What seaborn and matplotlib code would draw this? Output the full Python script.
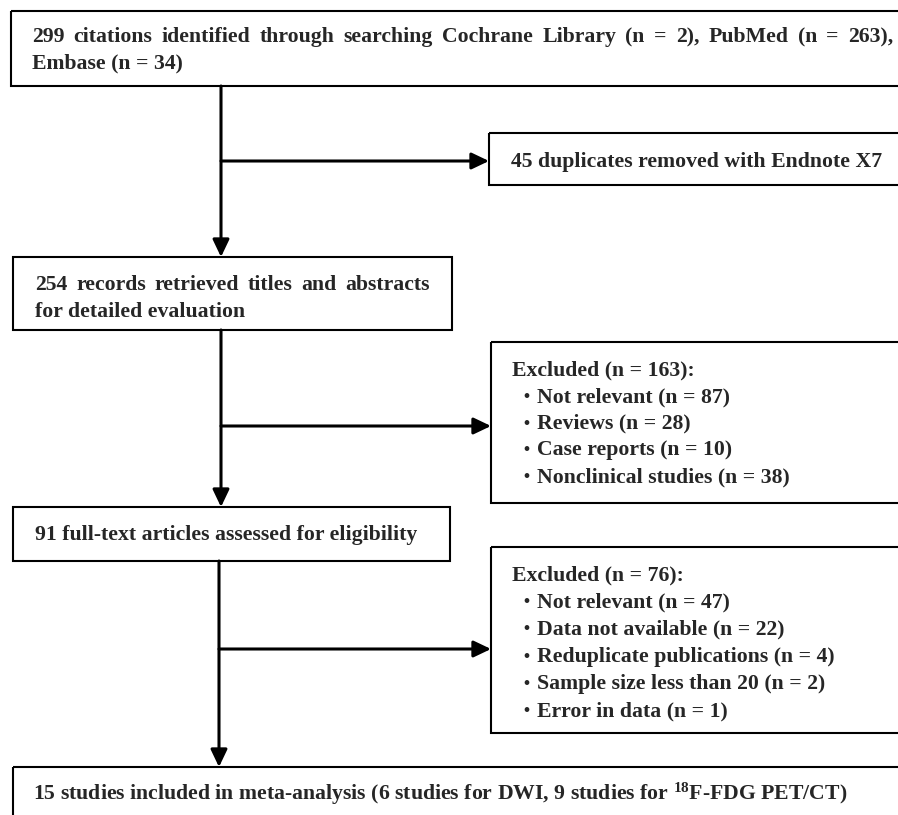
import matplotlib.pyplot as plt
import seaborn as sns
from matplotlib.patches import Rectangle, FancyArrowPatch

# Flow counts and labels
n_cochrane, n_pubmed, n_embase = 2, 263, 34
n_total = 299
n_duplicates = 45
n_screened = 254
n_fulltext = 91
n_included, n_dwi, n_pet = 15, 6, 9

excl1_reasons = ['Not relevant', 'Reviews', 'Case reports', 'Nonclinical studies']
excl1_counts = [87, 28, 10, 38]
excl2_reasons = ['Not relevant', 'Data not available', 'Reduplicate publications',
                 'Sample size less than 20', 'Error in data']
excl2_counts = [47, 22, 4, 2, 1]

sns.set_style('white')
plt.rcParams['font.family'] = ['Liberation Serif', 'DejaVu Serif']
plt.rcParams['font.weight'] = 'bold'
plt.rcParams['mathtext.fontset'] = 'custom'
plt.rcParams['mathtext.rm'] = 'Liberation Serif:bold'
plt.rcParams['mathtext.bf'] = 'Liberation Serif:bold'
plt.rcParams['mathtext.default'] = 'bf'

W, H = 898, 815
FS = 15.7
fig = plt.figure(figsize=(W / 100, H / 100), dpi=100)
ax = fig.add_axes([0, 0, 1, 1])
ax.set_xlim(0, W)
ax.set_ylim(H, 0)
ax.axis('off')
renderer = fig.canvas.get_renderer()


def box(x0, y0, x1, y1):
    ax.add_patch(Rectangle((x0, y0), x1 - x0, y1 - y0, fill=False,
                           edgecolor='black', linewidth=1.5, clip_on=False))


def arrow(p0, p1):
    ax.add_patch(FancyArrowPatch(p0, p1, arrowstyle='-|>,head_length=10.5,head_width=5',
                                 mutation_scale=1, color='black', linewidth=2.2,
                                 shrinkA=0, shrinkB=0))


def text(x, y, s, size=FS):
    return ax.text(x, y, s, fontsize=size, fontweight='bold', va='baseline', ha='left')


def justified(x0, x1, y, s):
    words = s.split(' ')
    widths = []
    for w in words:
        t = ax.text(0, 0, w, fontsize=FS, fontweight='bold')
        widths.append(t.get_window_extent(renderer).width)
        t.remove()
    gap = ((x1 - x0) - sum(widths)) / (len(words) - 1)
    x = x0
    for w, wd in zip(words, widths):
        text(x, y, w)
        x += wd + gap


def bullets(y0, step, reasons, counts):
    for i, (r, c) in enumerate(zip(reasons, counts)):
        yy = y0 + i * step
        text(523, yy - 1, '\u2022', size=FS * 0.8)
        text(537, yy, f'{r} (n = {c})')


# top box
box(11, 11, 920, 86)
justified(32, 893, 42, f'{n_total} citations identified through searching Cochrane Library '
          f'(n = {n_cochrane}), PubMed (n = {n_pubmed}),')
text(32, 68, f'Embase (n = {n_embase})')

# duplicates
arrow((221, 86), (221, 257))
arrow((221, 161), (489, 161))
box(489, 133, 920, 185)
text(511, 167, f'{n_duplicates} duplicates removed with Endnote X7')

# screened records
box(13, 257, 452, 330)
justified(35, 430, 290, f'{n_screened} records retrieved titles and abstracts')
text(35, 317, 'for detailed evaluation')
arrow((221, 330), (221, 507))
arrow((221, 426), (491, 426))

# first exclusion box
box(491, 342, 920, 503)
text(512, 375, f'Excluded (n = {sum(excl1_counts)}):')
bullets(402, 26.7, excl1_reasons, excl1_counts)

# full text
box(13, 507, 450, 561)
text(35, 540, f'{n_fulltext} full-text articles assessed for eligibility')
arrow((219, 561), (219, 767))
arrow((219, 649), (491, 649))

# second exclusion box
box(491, 547, 920, 733)
text(512, 580, f'Excluded (n = {sum(excl2_counts)}):')
bullets(607, 27.3, excl2_reasons, excl2_counts)

# included
box(13, 767, 920, 840)
text(33, 800, f'{n_included} studies included in meta-analysis ({n_dwi} studies for DWI, '
     f'{n_pet} studies for $^{{18}}$F-FDG PET/CT)')

fig.savefig('out.png', dpi=100, facecolor='white')
